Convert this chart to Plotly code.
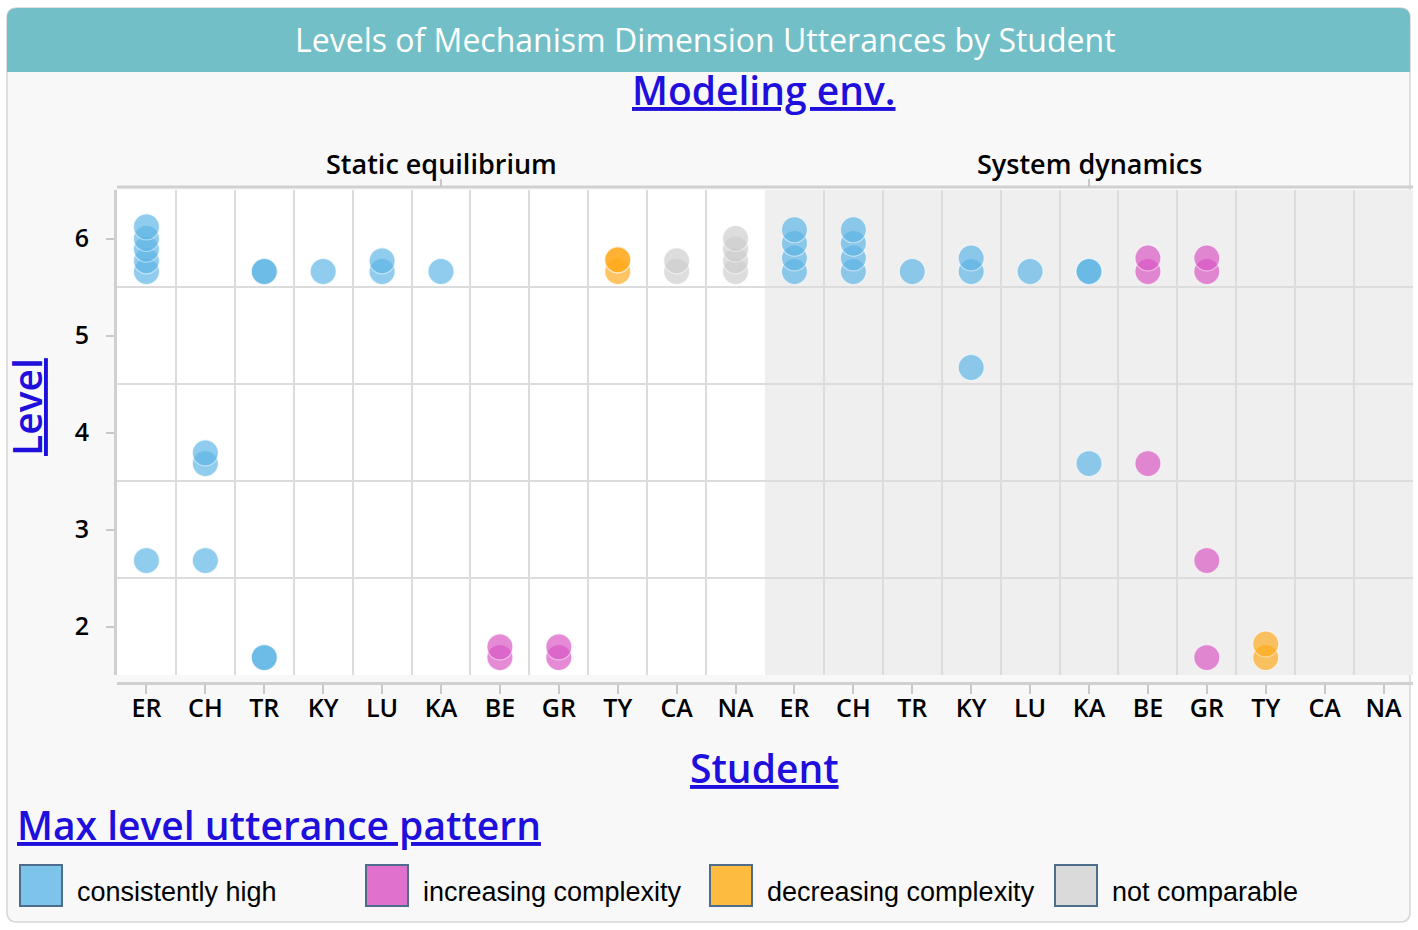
import plotly.graph_objects as go

W, H = 1418, 930

students = ["ER", "CH", "TR", "KY", "LU", "KA", "BE", "GR", "TY", "CA", "NA"]
environments = ["Static equilibrium", "System dynamics"]
patterns = ["consistently high", "increasing complexity", "decreasing complexity", "not comparable"]
pattern_colors = ["#5db5e6", "#d955c4", "#ffaa1c", "#cdcdcd"]
swatch_colors = ["#7dc4ea", "#e071cd", "#fdbb3f", "#dadada"]

# pattern of each student, per modeling environment
static_pattern = ["consistently high"] * 6 + ["increasing complexity"] * 2 + \
                 ["decreasing complexity", "not comparable", "not comparable"]
dynamics_pattern = ["consistently high"] * 6 + ["increasing complexity"] * 2 + \
                   ["decreasing complexity", "not comparable", "not comparable"]

# utterance levels (stacked within each level band)
static_levels = [
    [2.68, 5.66, 5.77, 5.89, 6.00, 6.12],  # ER
    [2.68, 3.68, 3.79],                    # CH
    [1.68, 1.68, 5.66, 5.66],              # TR
    [5.66],                                # KY
    [5.66, 5.77],                          # LU
    [5.66],                                # KA
    [1.68, 1.79],                          # BE
    [1.68, 1.79],                          # GR
    [5.66, 5.78, 5.78],                    # TY
    [5.66, 5.77],                          # CA
    [5.66, 5.77, 5.89, 6.00],              # NA
]
dynamics_levels = [
    [5.66, 5.80, 5.95, 6.09],              # ER
    [5.66, 5.80, 5.95, 6.09],              # CH
    [5.66],                                # TR
    [4.67, 5.66, 5.80],                    # KY
    [5.66],                                # LU
    [3.68, 5.66, 5.66],                    # KA
    [3.68, 5.66, 5.80],                    # BE
    [1.68, 2.68, 5.66, 5.80],              # GR
    [1.68, 1.82],                          # TY
    [],                                    # CA
    [],                                    # NA
]
level_ticks = [2, 3, 4, 5, 6]


def px(x):
    return x / W


def py(y):
    return 1 - y / H


def rounded_rect(x0, y0, x1, y1, r, top_only=False):
    # path in paper coords from pixel box
    rb = 0 if top_only else r
    p = "M %f,%f " % (px(x0 + r), py(y0))
    p += "L %f,%f " % (px(x1 - r), py(y0))
    p += "Q %f,%f %f,%f " % (px(x1), py(y0), px(x1), py(y0 + r))
    p += "L %f,%f " % (px(x1), py(y1 - rb))
    p += "Q %f,%f %f,%f " % (px(x1), py(y1), px(x1 - rb), py(y1))
    p += "L %f,%f " % (px(x0 + rb), py(y1))
    p += "Q %f,%f %f,%f " % (px(x0), py(y1), px(x0), py(y1 - rb))
    p += "L %f,%f " % (px(x0), py(y0 + r))
    p += "Q %f,%f %f,%f Z" % (px(x0), py(y0), px(x0 + r), py(y0))
    return p


n = len(students)
fig = go.Figure()

# one trace per pattern, points from both environments
for pat, col in zip(patterns, pattern_colors):
    xs, ys, txt = [], [], []
    for e, (pats, levels) in enumerate([(static_pattern, static_levels), (dynamics_pattern, dynamics_levels)]):
        for i, s in enumerate(students):
            if pats[i] != pat:
                continue
            for lv in levels[i]:
                xs.append(i + e * n)
                ys.append(lv)
                txt.append("%s - %s" % (s, environments[e]))
    fig.add_trace(go.Scatter(
        x=xs, y=ys, mode="markers", name=pat, text=txt,
        marker=dict(size=26, color=col, opacity=0.68,
                    line=dict(color="rgba(255,255,255,0.7)", width=1.2)),
        showlegend=False,
    ))

shapes = []
# card + title bar
shapes.append(dict(type="path", xref="paper", yref="paper", layer="below",
                   path=rounded_rect(7, 8, 1410, 922, 10),
                   fillcolor="#f8f8f8", line=dict(color="#d6d6d6", width=1.5)))
shapes.append(dict(type="path", xref="paper", yref="paper", layer="below",
                   path=rounded_rect(7, 8, 1410, 72, 10, top_only=True),
                   fillcolor="#72bfc7", line=dict(width=0)))
# facet backgrounds
shapes.append(dict(type="rect", xref="x", yref="y", layer="below",
                   x0=-0.5, x1=n - 0.5, y0=1.5, y1=6.5, fillcolor="white", line=dict(width=0)))
shapes.append(dict(type="rect", xref="x", yref="y", layer="below",
                   x0=n - 0.5, x1=2 * n - 0.5, y0=1.5, y1=6.5, fillcolor="#efefef", line=dict(width=0)))
# header axis on top with a tick per facet
shapes.append(dict(type="line", xref="x", yref="paper", x0=-0.5, x1=2 * n - 0.5,
                   y0=py(187), y1=py(187), line=dict(color="#d0d0d0", width=3)))
for e in range(2):
    xc = e * n + (n - 1) / 2
    shapes.append(dict(type="line", xref="x", yref="paper", x0=xc, x1=xc,
                       y0=py(187), y1=py(179), line=dict(color="#c8c8c8", width=2)))

annotations = []


def label(text, x, y, font, xref="paper", **kw):
    d = dict(text=text, x=x, y=y, xref=xref, yref="paper", showarrow=False,
             xanchor="center", yanchor="middle", font=font)
    d.update(kw)
    annotations.append(d)


label("Levels of Mechanism Dimension Utterances by Student", px(705), py(39),
      dict(family="Open Sans", size=32, color="white"))
for e, env in enumerate(environments):
    label(env, e * n + (n - 1) / 2, py(163),
          dict(family="Open Sans", size=27, color="black", weight=600), xref="x")
link = dict(family="Open Sans", size=39, color="#1f0fdc", weight=600)
label("<u>Modeling env.</u>", px(764), py(89), link)
label("<u>Student</u>", px(764), py(767), link)
label("<u>Level</u>", px(26), py(407), link, textangle=-90)
label("<u>Max level utterance pattern</u>", px(15), py(824), link, xanchor="left")

# legend row
legend_x = [20, 366, 710, 1055]
for lx, pat, col in zip(legend_x, patterns, swatch_colors):
    shapes.append(dict(type="rect", xref="paper", yref="paper", x0=px(lx), x1=px(lx + 42),
                       y0=py(906), y1=py(865), fillcolor=col, line=dict(color="#4e6c8c", width=2)))
    label(pat, px(lx + 55), py(892), dict(family="Liberation Sans", size=27, color="black"),
          xanchor="left")

grid_x = [i + 0.5 for i in range(n - 1)] + [n + i + 0.5 for i in range(n - 1)]

fig.update_layout(
    width=W, height=H,
    margin=dict(l=0, r=0, t=0, b=0),
    paper_bgcolor="white",
    plot_bgcolor="rgba(0,0,0,0)",
    shapes=shapes,
    annotations=annotations,
    font=dict(family="Open Sans", color="black"),
    xaxis=dict(
        domain=[px(117), px(1413)], range=[-0.5, 2 * n - 0.5],
        anchor="free", position=py(683),
        tickvals=list(range(2 * n)), ticktext=students + students,
        showgrid=False, zeroline=False,
        showline=True, linecolor="#d0d0d0", linewidth=3,
        ticks="outside", ticklen=9, tickwidth=2, tickcolor="#c8c8c8",
        tickfont=dict(size=25, color="black", weight=600),
        ticklabelstandoff=-7,
        minor=dict(tickvals=grid_x, showgrid=True, gridcolor="#dcdcdc", gridwidth=2, ticks=""),
        fixedrange=True,
    ),
    yaxis=dict(
        domain=[py(675), py(190)], range=[1.5, 6.5],
        tickvals=level_ticks, showgrid=False, zeroline=False,
        showline=True, linecolor="#d0d0d0", linewidth=3,
        ticks="outside", ticklen=8, tickwidth=2, tickcolor="#c8c8c8",
        tickfont=dict(size=25, color="black", weight=600),
        ticklabelstandoff=12,
        minor=dict(tickvals=[2.5, 3.5, 4.5, 5.5], showgrid=True, gridcolor="#dcdcdc", gridwidth=2, ticks=""),
        fixedrange=True,
    ),
)

fig.write_html("out.html", config={"displayModeBar": False},
               post_script="document.body.style.margin='0';")
